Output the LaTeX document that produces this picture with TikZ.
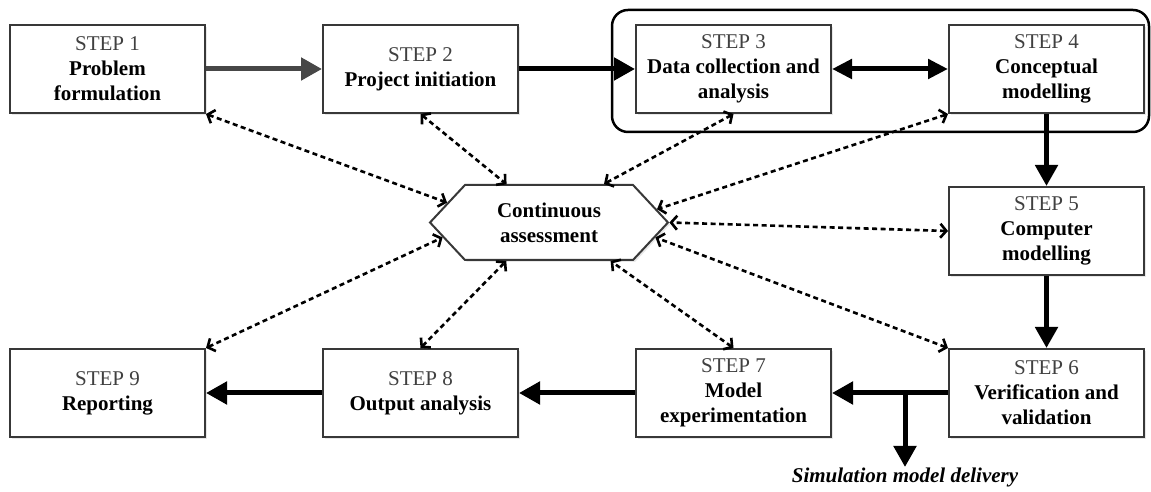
\documentclass[tikz,border=0pt]{standalone}
\usepackage{fontspec}
\setmainfont{Liberation Serif}
\usetikzlibrary{positioning, arrows.meta, shapes.symbols, shadows, fit}
\definecolor{stepgray}{gray}{0.25}
\newcommand{\steptext}[2]{{\mdseries\color{stepgray}STEP #1}\\#2}

\begin{document}
\begin{tikzpicture}[x=1bp, y=1bp, node distance={72bp and 116bp},
  font=\fontsize{21bp}{25bp}\selectfont,
  stepbox/.style = {draw=black!78, line width=2bp, fill=white, minimum width=195bp, minimum height=88bp,
    inner sep=2bp, align=center, font=\fontsize{21bp}{25bp}\selectfont\bfseries,
    drop shadow={opacity=0.18, shadow xshift=2bp, shadow yshift=-2bp}},
  hexa/.style = {draw=black!78, line width=2bp, fill=white, shape=signal, signal to=west and east,
    signal pointer angle=94, minimum width=238bp, minimum height=75bp, inner sep=2bp, align=center,
    font=\fontsize{21bp}{25bp}\selectfont\bfseries, drop shadow={opacity=0.18, shadow xshift=2bp, shadow yshift=-2bp}},
  flow/.style = {line width=5bp, -{Triangle[length=21bp, width=22bp]}},
  assess/.style = {line width=2.6bp, dash pattern=on 5bp off 3.5bp,
    {Straight Barb[length=6bp, width=14bp]}-{Straight Barb[length=6bp, width=14bp]}},
  group/.style = {draw, line width=2.5bp, rounded corners=16bp}]
\useasboundingbox (0,0) rectangle (1151,492);

% top row
\node[stepbox] (s1) at (107.5,423) {\steptext{1}{Problem\\formulation}};
\node[stepbox] (s2) [right=of s1] {\steptext{2}{Project initiation}};
\node[stepbox] (s3) [right=of s2] {\steptext{3}{Data collection and\\analysis}};
\node[stepbox] (s4) [right=of s3] {\steptext{4}{Conceptual\\modelling}};
\node[group, fit={(612,360) (1149,482)}, inner sep=0pt] (phase) {};

% right column and bottom row
\node[stepbox] (s5) [below=of s4] {\steptext{5}{Computer\\modelling}};
\node[stepbox] (s6) [below=of s5] {\steptext{6}{Verification and\\validation}};
\node[stepbox] (s7) [left=of s6] {\steptext{7}{Model\\experimentation}};
\node[stepbox] (s8) [left=of s7] {\steptext{8}{Output analysis}};
\node[stepbox] (s9) [left=of s8] {\steptext{9}{Reporting}};

\node[hexa] (ca) at (549,269.5) {Continuous\\assessment};
\node[anchor=north, inner sep=1bp, font=\fontsize{21bp}{25bp}\selectfont\bfseries\itshape] (dl) at (905,25) {Simulation model delivery};

\draw[flow, color=black!72] (s1.east) -- (s2.west);
\draw[flow] (s2.east) -- (s3.west);
\draw[line width=5bp, {Triangle[length=20bp, width=19bp]}-{Triangle[length=20bp, width=19bp]}] (s3.east) -- (s4.west);
\draw[flow] (s4.south) -- (s5.north);
\draw[flow] (s5.south) -- (s6.north);
\draw[flow] (s6.west) -- (s7.east);
\draw[flow] (s7.west) -- (s8.east);
\draw[flow] (s8.west) -- (s9.east);
\draw[flow] (dl.north |- s6.west) -- (dl.north);

% links to the assessment
\draw[assess] (s1.south east) -- (ca.169);
\draw[assess] (s2.south) -- (ca.138);
\draw[assess] (s3.south) -- (ca.35);
\draw[assess] (s4.south west) -- (ca.7);
\draw[assess] (s5.west) -- (ca.0);
\draw[assess] (s6.north west) -- (ca.352);
\draw[assess] (s7.north) -- (ca.328);
\draw[assess] (s8.north) -- (ca.222);
\draw[assess] (s9.north east) -- (ca.188);
\end{tikzpicture}
\end{document}
